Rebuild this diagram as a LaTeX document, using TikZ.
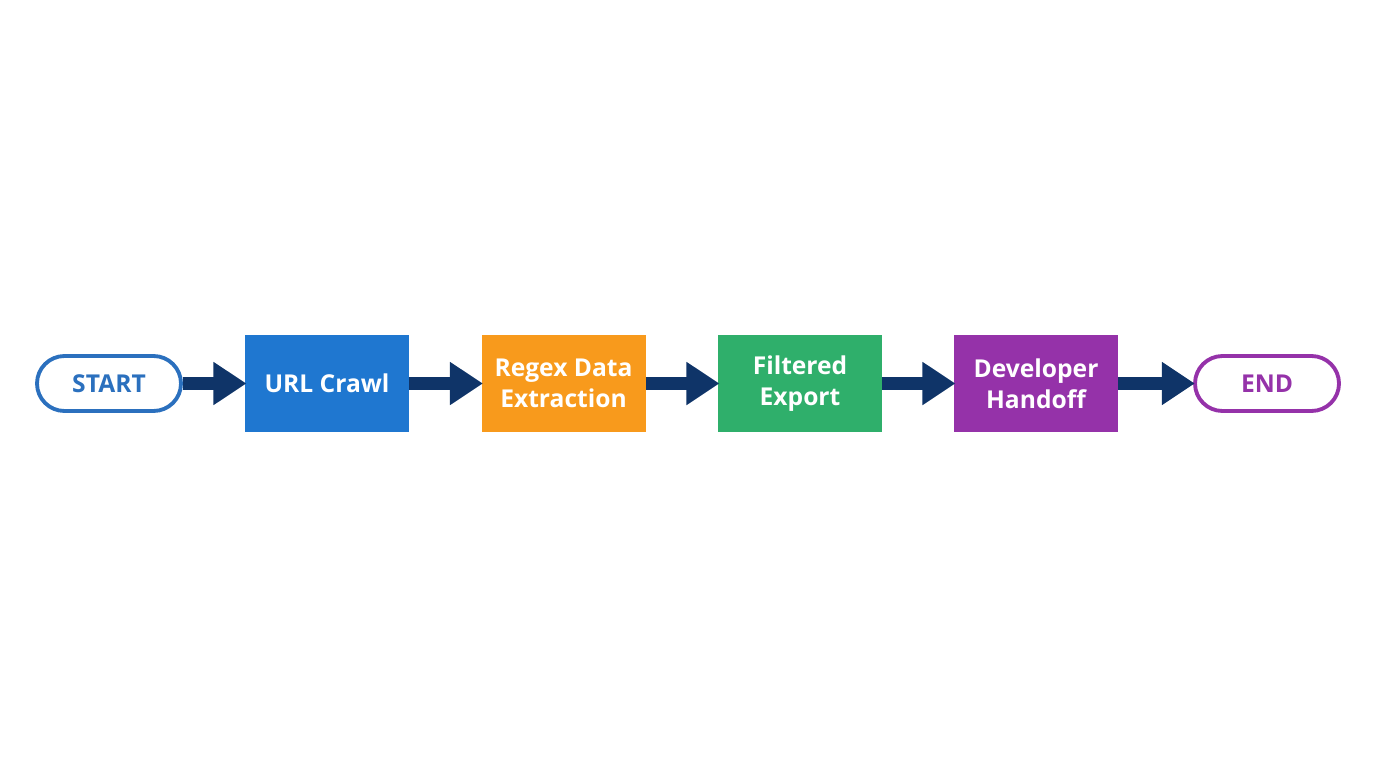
\documentclass[tikz,border=0pt]{standalone}
\usepackage{fontspec}
\setmainfont{Open Sans}
\usetikzlibrary{positioning,arrows.meta}
\definecolor{startblue}{HTML}{2B70BE}
\definecolor{crawlblue}{HTML}{1F77D0}
\definecolor{extractorange}{HTML}{F89A1C}
\definecolor{exportgreen}{HTML}{2FAF6B}
\definecolor{handoffpurple}{HTML}{9532A9}
\definecolor{arrownavy}{HTML}{0F3468}
\tikzset{
  terminal/.style={draw, line width=2.2pt, rounded corners=0.55cm, fill=white,
    minimum width=2.88cm, minimum height=1.1cm, font=\fontsize{14}{17}\selectfont\bfseries},
  step/.style={fill=#1, text=white, minimum width=3.28cm, minimum height=1.94cm,
    align=center, font=\fontsize{14}{17.5}\selectfont\bfseries},
  flow/.style={draw=arrownavy, line width=7pt,
    -{Triangle[length=0.66cm,width=0.82cm]}, shorten >=-1pt}
}
\begin{document}
\begin{tikzpicture}
  \useasboundingbox (0,0) rectangle (27.52,-15.36);
  % terminals
  \node[terminal, draw=startblue, text=startblue] (start) at (2.18,-7.67) {START};
  \node[terminal, draw=handoffpurple, text=handoffpurple] (end) at (25.34,-7.67) {END};

  % process steps
  \node[step=crawlblue] (crawl) at (6.54,-7.67) {URL Crawl};
  \node[step=extractorange] (extract) at (11.27,-7.67) {Regex Data\\Extraction};
  \node[step=exportgreen] (export) at (16.0,-7.67) {Filtered\\Export};
  \node[step=handoffpurple] (handoff) at (20.72,-7.67) {Developer\\Handoff};

  % connectors
  \foreach \a/\b in {start/crawl, crawl/extract, extract/export, export/handoff, handoff/end}
    \draw[flow] (\a) -- (\b);
\end{tikzpicture}
\end{document}
